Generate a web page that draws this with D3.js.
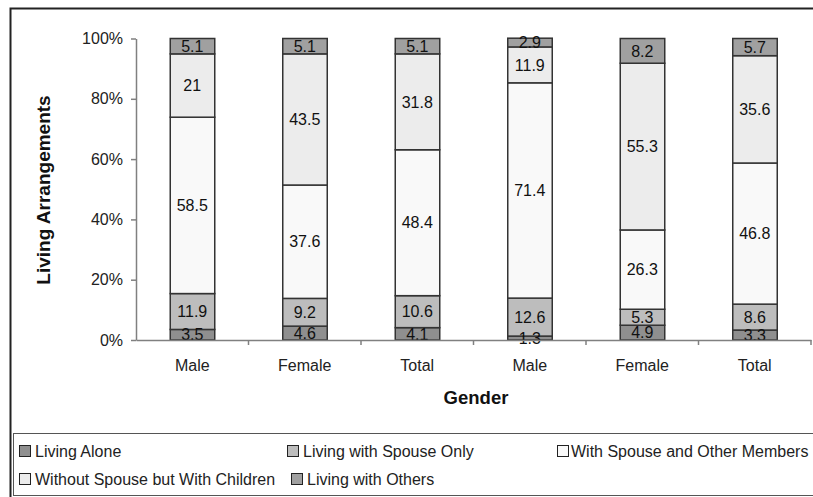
<!DOCTYPE html>
<html><head><meta charset="utf-8">
<script src="https://cdn.jsdelivr.net/npm/d3@7"></script>
<style>body{margin:0;background:#fff;} svg{display:block;font-family:"Liberation Sans",Arial,sans-serif;}</style>
</head><body>
<svg id="c" width="813" height="497"></svg>
<script>
const categories = ["Male","Female","Total","Male","Female","Total"];
const seriesNames = ["Living Alone","Living with Spouse Only","With Spouse and Other Members","Without Spouse but With Children","Living with Others"];
const livingAlone = [3.5,4.6,4.1,1.3,4.9,3.3];
const spouseOnly = [11.9,9.2,10.6,12.6,5.3,8.6];
const spouseOthers = [58.5,37.6,48.4,71.4,26.3,46.8];
const withoutSpouseChildren = [21,43.5,31.8,11.9,55.3,35.6];
const livingOthers = [5.1,5.1,5.1,2.9,8.2,5.7];
const yTicks = [0,20,40,60,80,100];
const colors = ["#8f8f8f","#bdbdbd","#f9f9f9","#ececec","#a0a0a0"];

const series = [livingAlone,spouseOnly,spouseOthers,withoutSpouseChildren,livingOthers];
const data = categories.map((c,i)=>{const o={idx:i,cat:c}; seriesNames.forEach((s,k)=>o[s]=series[k][i]); return o;});
const stack = d3.stack().keys(seriesNames)(data);

const svg = d3.select("#c");
const x0 = 136, x1 = 811, yTop = 38.5, yBot = 340;
const band = d3.scaleBand().domain(d3.range(categories.length)).range([x0,x1]);
const y = d3.scaleLinear().domain([0,100]).range([yBot,yTop]);
const FONT = "Liberation Sans, Arial, sans-serif";

// outer border
svg.append("rect").attr("x",10.5).attr("y",8.5).attr("width",830).attr("height",520)
  .attr("fill","none").attr("stroke","#222").attr("stroke-width",2);

// bars
const g = svg.append("g");
stack.forEach((layer,k)=>{
  g.selectAll(null).data(layer).enter().append("rect")
    .attr("x",(d,i)=>band(i)+band.bandwidth()/2-22)
    .attr("width",44.5)
    .attr("y",d=>y(d[1]))
    .attr("height",d=>y(d[0])-y(d[1]))
    .attr("fill",colors[k]).attr("stroke","#333").attr("stroke-width",1.5);
});
stack.forEach((layer,k)=>{
  g.selectAll(null).data(layer).enter().append("text")
    .attr("x",(d,i)=>band(i)+band.bandwidth()/2)
    .attr("y",d=>(y(d[0])+y(d[1]))/2)
    .attr("dy","0.36em").attr("text-anchor","middle")
    .attr("font-size",16).attr("fill","#111")
    .text(d=>series[k][d.data.idx]);
});

// y axis
const ya = svg.append("g").attr("transform",`translate(${x0},0)`)
  .call(d3.axisLeft(y).tickValues(yTicks).tickFormat(d=>d+"%").tickSize(5).tickSizeOuter(0).tickPadding(8));
ya.select(".domain").attr("stroke","#808080").attr("stroke-width",1.5);
ya.selectAll(".tick line").attr("stroke","#808080").attr("stroke-width",1.5);
ya.selectAll("text").attr("font-size",16).attr("fill","#222").attr("font-family",FONT);

// x axis
const xa = svg.append("g").attr("transform",`translate(0,${yBot})`)
  .call(d3.axisBottom(band).tickFormat(i=>categories[i]).tickSize(0).tickPadding(20));
xa.select(".domain").attr("stroke","#808080").attr("stroke-width",1.5);
xa.selectAll("text").attr("font-size",16).attr("fill","#222").attr("font-family",FONT);
xa.selectAll(null).data(d3.range(1,categories.length+1)).enter().append("line")
  .attr("x1",i=>band(i-1)+band.step()).attr("x2",i=>band(i-1)+band.step())
  .attr("y1",0).attr("y2",5).attr("stroke","#808080").attr("stroke-width",1.5);

// axis titles
svg.append("text").attr("x",476).attr("y",404).attr("text-anchor","middle")
  .attr("font-size",18.5).attr("font-weight","bold").attr("fill","#111").text("Gender");
svg.append("text").attr("transform","translate(50,190) rotate(-90)").attr("text-anchor","middle")
  .attr("font-size",19).attr("font-weight","bold").attr("fill","#111").text("Living Arrangements");

// legend
svg.append("rect").attr("x",13.5).attr("y",433.5).attr("width",820).attr("height",62)
  .attr("fill","none").attr("stroke","#555").attr("stroke-width",1);
const legPos = [[19,451,16],[287,451,16],[557,451,14],[19,479,16],[291,479,16]];
seriesNames.forEach((s,k)=>{
  const [lx,ly,tx] = legPos[k];
  svg.append("rect").attr("x",lx+0.5).attr("y",ly-5.5).attr("width",11).attr("height",11)
    .attr("fill",colors[k]).attr("stroke","#222").attr("stroke-width",1);
  svg.append("text").attr("x",lx+tx).attr("y",ly).attr("dy","0.36em")
    .attr("font-size",16).attr("fill","#222").text(s);
});
</script>
</body></html>
